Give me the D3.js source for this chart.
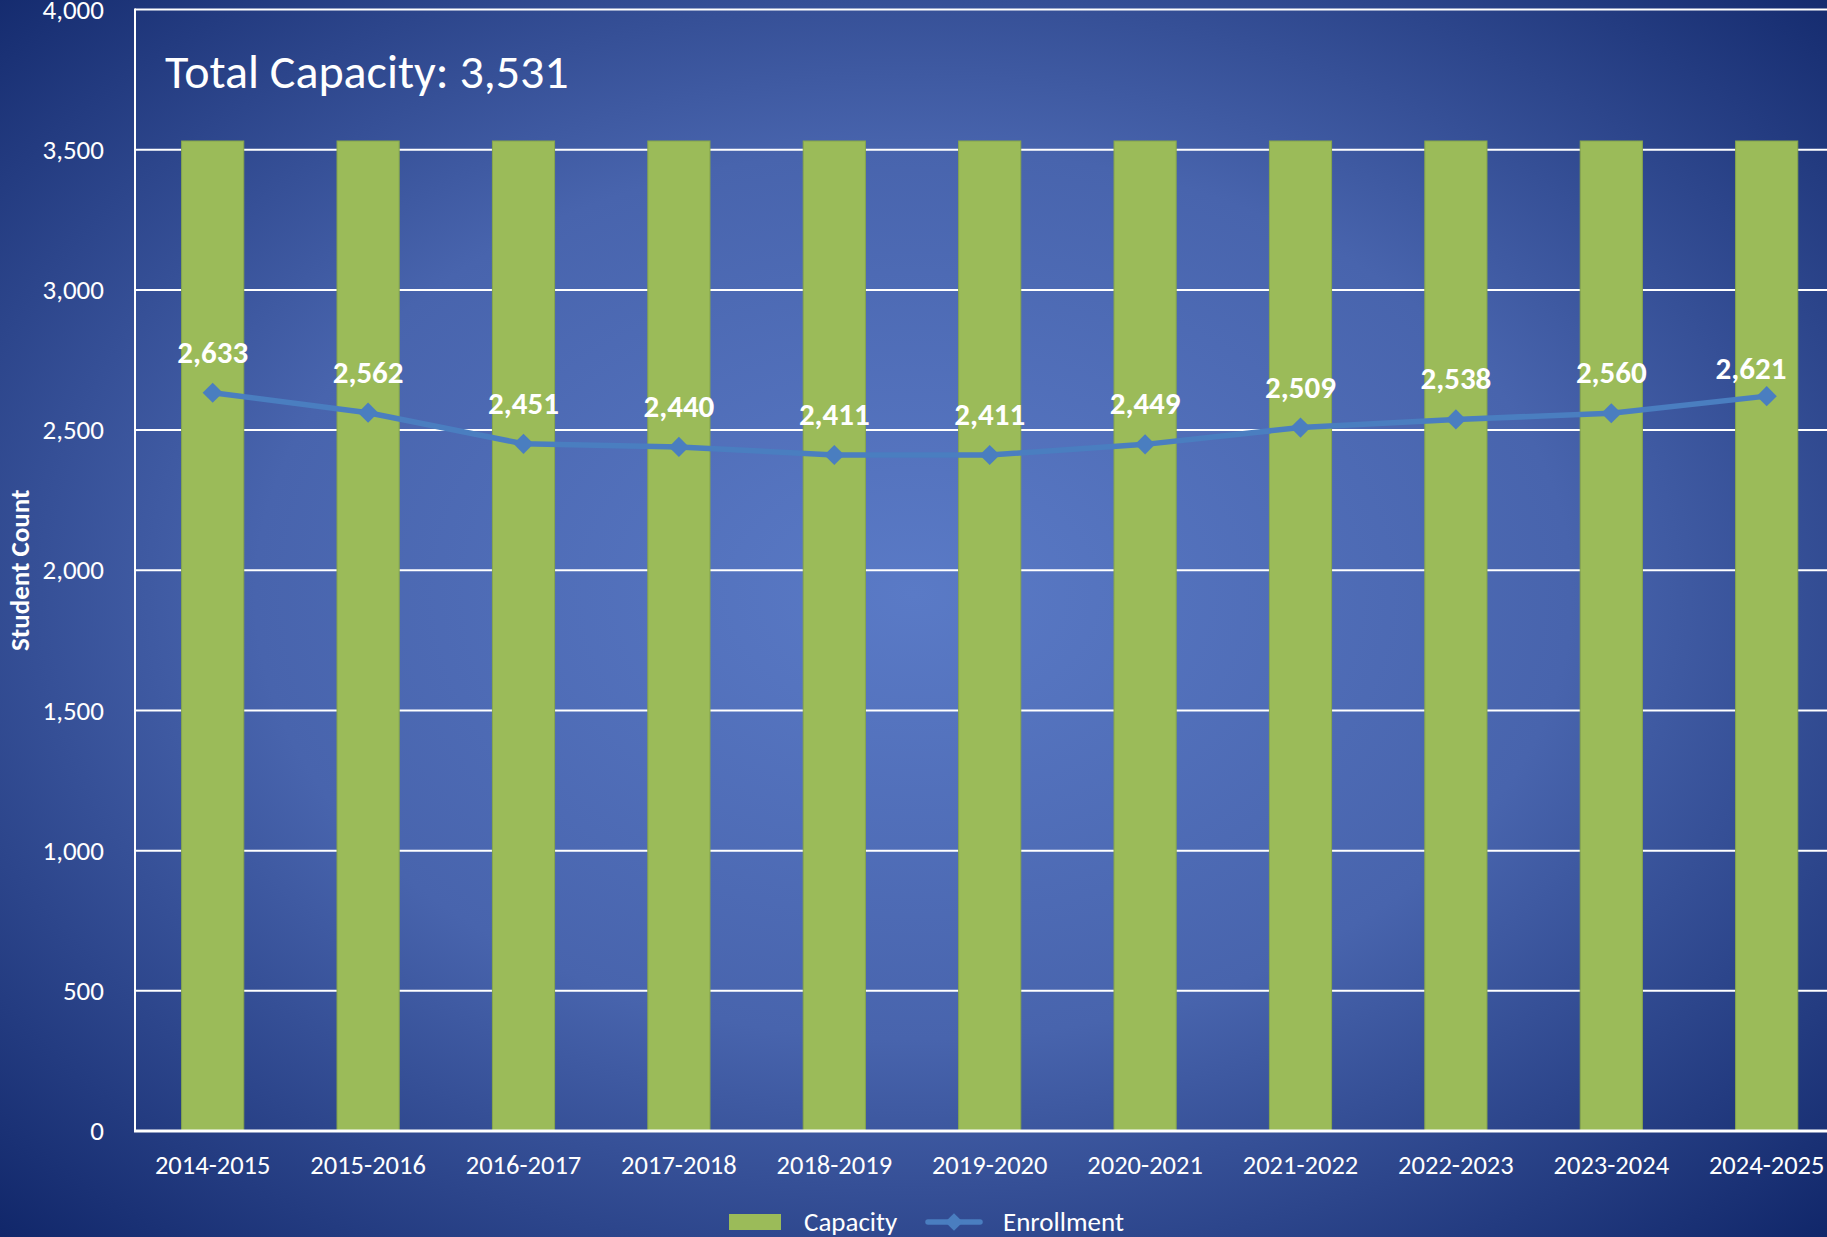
<!DOCTYPE html>
<html>
<head>
<meta charset="utf-8">
<script src="https://cdn.jsdelivr.net/npm/d3@7/dist/d3.min.js"></script>
<style>
  html, body { margin: 0; padding: 0; background: #142a69; overflow: hidden; }
  svg { display: block; font-family: Carlito, Calibri, Lato, "Noto Sans", sans-serif; }
</style>
</head>
<body>
<svg id="chart" width="1827" height="1237"></svg>
<script>
// School years shown on the x axis
const years = ["2014-2015", "2015-2016", "2016-2017", "2017-2018", "2018-2019",
               "2019-2020", "2020-2021", "2021-2022", "2022-2023", "2023-2024", "2024-2025"];
// Building capacity per year (bars)
const capacity = [3531, 3531, 3531, 3531, 3531, 3531, 3531, 3531, 3531, 3531, 3531];
// Student enrollment per year (line)
const enrollment = [2633, 2562, 2451, 2440, 2411, 2411, 2449, 2509, 2538, 2560, 2621];
// Y axis ticks
const yTicks = [0, 500, 1000, 1500, 2000, 2500, 3000, 3500, 4000];
const totalCapacity = 3531;

const W = 1827, H = 1237;
const plot = { left: 135, top: 9.5, bottom: 1131, step: 155.4 };
const fmt = d3.format(",");

const svg = d3.select("#chart");

// Background: soft radial glow, light in the centre and deep navy at the edges
const defs = svg.append("defs");
const bg = defs.append("radialGradient")
  .attr("id", "bgGrad")
  .attr("cx", "50%").attr("cy", "48%").attr("r", "72%");
bg.append("stop").attr("offset", "0%").attr("stop-color", "#5a7ac6");
bg.append("stop").attr("offset", "50%").attr("stop-color", "#4864ad");
bg.append("stop").attr("offset", "100%").attr("stop-color", "#11276a");
svg.append("rect").attr("width", W).attr("height", H).attr("fill", "url(#bgGrad)");

const x = d3.scaleBand()
  .domain(years)
  .range([plot.left, plot.left + plot.step * years.length])
  .paddingInner(0.6)
  .paddingOuter(0.3);

const y = d3.scaleLinear().domain([0, 4000]).range([plot.bottom, plot.top]);

const xRight = plot.left + plot.step * years.length;

// Horizontal gridlines
svg.append("g")
  .selectAll("line")
  .data(yTicks.filter(d => d > 0))
  .join("line")
  .attr("x1", plot.left).attr("x2", xRight)
  .attr("y1", d => y(d)).attr("y2", d => y(d))
  .attr("stroke", "#ffffff").attr("stroke-width", 2);

// Y axis (labels only, plus the white spine)
const yAxis = svg.append("g")
  .attr("transform", `translate(${plot.left},0)`)
  .call(d3.axisLeft(y).tickValues(yTicks).tickFormat(fmt).tickSize(0).tickPadding(31));
yAxis.select(".domain").remove();
yAxis.selectAll("text")
  .attr("fill", "#ffffff")
  .style("font-size", "27px")
  .style("font-family", "Carlito, Calibri, Lato, sans-serif");

svg.append("line")
  .attr("x1", plot.left).attr("x2", plot.left)
  .attr("y1", y(4000) - 1).attr("y2", y(0))
  .attr("stroke", "#ffffff").attr("stroke-width", 2);

// Capacity bars
svg.append("g")
  .selectAll("rect")
  .data(years.map((yr, i) => ({ yr, v: capacity[i] })))
  .join("rect")
  .attr("x", d => x(d.yr))
  .attr("width", x.bandwidth())
  .attr("y", d => y(d.v))
  .attr("height", d => y(0) - y(d.v))
  .attr("fill", "#9bbb59")
  .attr("stroke", "#87a64c")
  .attr("stroke-width", 1);

// X axis baseline and labels
svg.append("line")
  .attr("x1", plot.left - 1).attr("x2", xRight)
  .attr("y1", y(0)).attr("y2", y(0))
  .attr("stroke", "#ffffff").attr("stroke-width", 3);

const xAxis = svg.append("g")
  .attr("transform", `translate(0,${y(0)})`)
  .call(d3.axisBottom(x).tickSize(0).tickPadding(24));
xAxis.select(".domain").remove();
xAxis.selectAll("text")
  .attr("fill", "#ffffff")
  .style("font-size", "26.5px")
  .style("font-family", "Carlito, Calibri, Lato, sans-serif");

// Enrollment line with diamond markers
const cx = d => x(d.yr) + x.bandwidth() / 2;
const pts = years.map((yr, i) => ({ yr, v: enrollment[i], i }));
const lineColor = "#4a7ec0";

svg.append("path")
  .datum(pts)
  .attr("d", d3.line().x(cx).y(d => y(d.v)))
  .attr("fill", "none")
  .attr("stroke", lineColor)
  .attr("stroke-width", 5.5)
  .attr("stroke-linejoin", "round");

const diamond = d3.symbol().type(d3.symbolDiamond2).size(260);
svg.append("g")
  .selectAll("path")
  .data(pts)
  .join("path")
  .attr("transform", d => `translate(${cx(d)},${y(d.v)})`)
  .attr("d", diamond)
  .attr("fill", lineColor);

// Value labels above each enrollment point; a label that would run into
// the right edge is pulled in and tucked closer to its marker
const labelMaxX = W - 76;
svg.append("g")
  .selectAll("text")
  .data(pts)
  .join("text")
  .attr("x", d => Math.min(cx(d), labelMaxX))
  .attr("y", d => y(d.v) - (cx(d) > labelMaxX ? 17 : 30))
  .attr("text-anchor", "middle")
  .attr("fill", "#ffffff")
  .style("font-weight", "bold")
  .style("font-size", "31px")
  .text(d => fmt(d.v));

// Headline inside the plot
svg.append("text")
  .attr("x", 165).attr("y", 88)
  .attr("fill", "#ffffff")
  .style("font-size", "48px")
  .text(`Total Capacity: ${fmt(totalCapacity)}`);

// Y axis title
svg.append("text")
  .attr("transform", `translate(29,${(y(0) + y(4000)) / 2}) rotate(-90)`)
  .attr("text-anchor", "middle")
  .attr("fill", "#ffffff")
  .style("font-weight", "bold")
  .style("font-size", "27px")
  .text("Student Count");

// Legend
const lg = svg.append("g").attr("transform", "translate(0,1222)");
lg.append("rect")
  .attr("x", 729).attr("y", -8).attr("width", 52).attr("height", 16)
  .attr("fill", "#9bbb59");
lg.append("text")
  .attr("x", 804).attr("y", 9)
  .attr("fill", "#ffffff").style("font-size", "27px")
  .text("Capacity");
lg.append("line")
  .attr("x1", 928).attr("x2", 980).attr("y1", 0).attr("y2", 0)
  .attr("stroke", lineColor).attr("stroke-width", 5.5).attr("stroke-linecap", "round");
lg.append("path")
  .attr("transform", "translate(954,0)")
  .attr("d", d3.symbol().type(d3.symbolDiamond2).size(200))
  .attr("fill", lineColor);
lg.append("text")
  .attr("x", 1003).attr("y", 9)
  .attr("fill", "#ffffff").style("font-size", "27px")
  .text("Enrollment");
</script>
</body>
</html>
